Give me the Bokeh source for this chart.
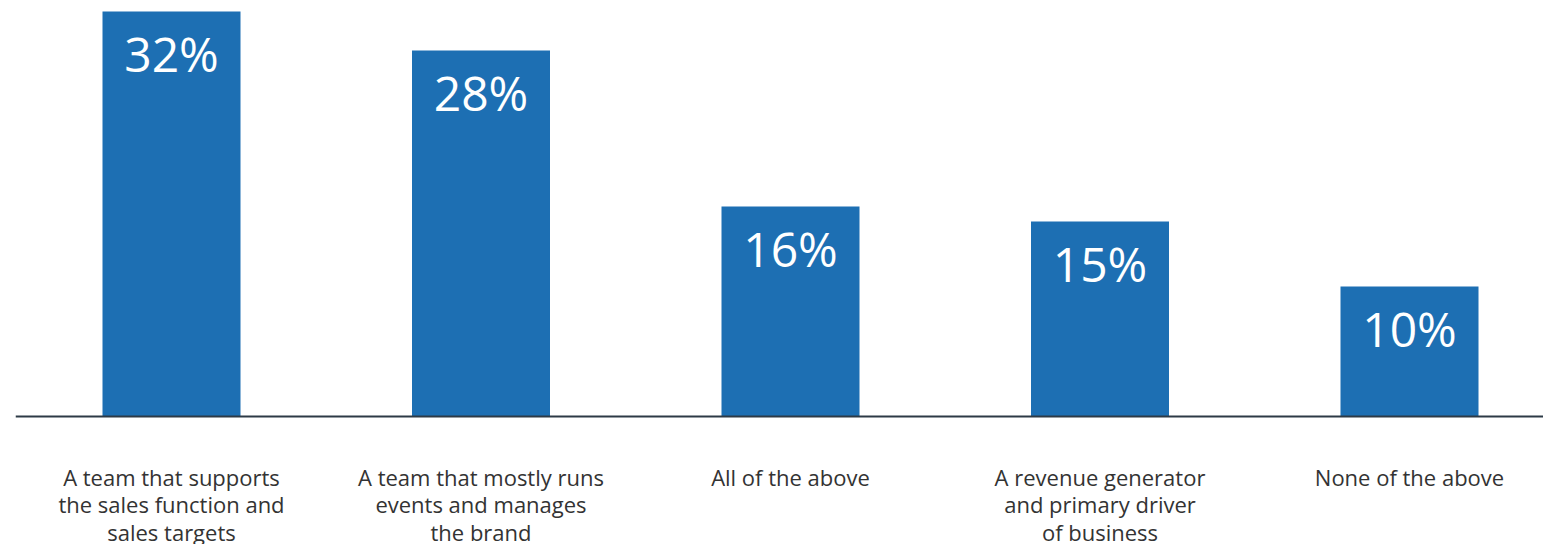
from bokeh.plotting import figure
from bokeh.models import Range1d, Span, ColumnDataSource
from bokeh.core.properties import value
from bokeh.embed import file_html
from bokeh.resources import INLINE

categories = [
    "A team that supports\nthe sales function and\nsales targets",
    "A team that mostly runs\nevents and manages\nthe brand",
    "All of the above",
    "A revenue generator\nand primary driver\nof business",
    "None of the above",
]
values = [31.15, 28.15, 16.15, 15.0, 10.0]
value_labels = ["32%", "28%", "16%", "15%", "10%"]

BAR = "#1D6FB3"
TXT = "#333333"
FONT = "Open Sans"

W, H = 1543, 544
PX_X = 309.5      # px per category
PX_Y = 13.0       # px per unit
left_px = 15
first_center = 171 - left_px
x0 = -first_center / PX_X
x1 = x0 + (W - left_px) / PX_X
y1 = 416 / PX_Y
y0 = y1 - H / PX_Y

p = figure(width=W, height=H, output_backend="svg", toolbar_location=None,
           x_range=Range1d(x0, x1), y_range=Range1d(y0, y1),
           min_border_left=left_px, min_border_right=0,
           min_border_top=0, min_border_bottom=0)
p.axis.visible = False
p.grid.visible = False
p.outline_line_color = None
p.background_fill_color = "white"
p.border_fill_color = "white"

xs = list(range(len(categories)))
p.vbar(x=xs, top=values, bottom=0, width=138 / PX_X, color=BAR, line_color=None)

p.add_layout(Span(location=0, dimension="width", line_color="#2D3A46", line_width=2))

lab = ColumnDataSource(dict(x=xs, y=[v - 42 / PX_Y for v in values], t=value_labels))
p.text(x="x", y="y", text="t", source=lab, text_color="white",
       text_font=value(FONT), text_font_size="48px",
       text_align="center", text_baseline="alphabetic")

lx, ly, lt = [], [], []
for i, c in enumerate(categories):
    for j, line in enumerate(c.split("\n")):
        lx.append(i)
        ly.append(-(476 - 416 + j * 27.5) / PX_Y)
        lt.append(line)
p.text(x=lx, y=ly, text=lt, text_color=TXT, text_font=value(FONT),
       text_font_size="22px", text_align="center", text_baseline="alphabetic")

open("out.html", "w").write(file_html(p, INLINE))
